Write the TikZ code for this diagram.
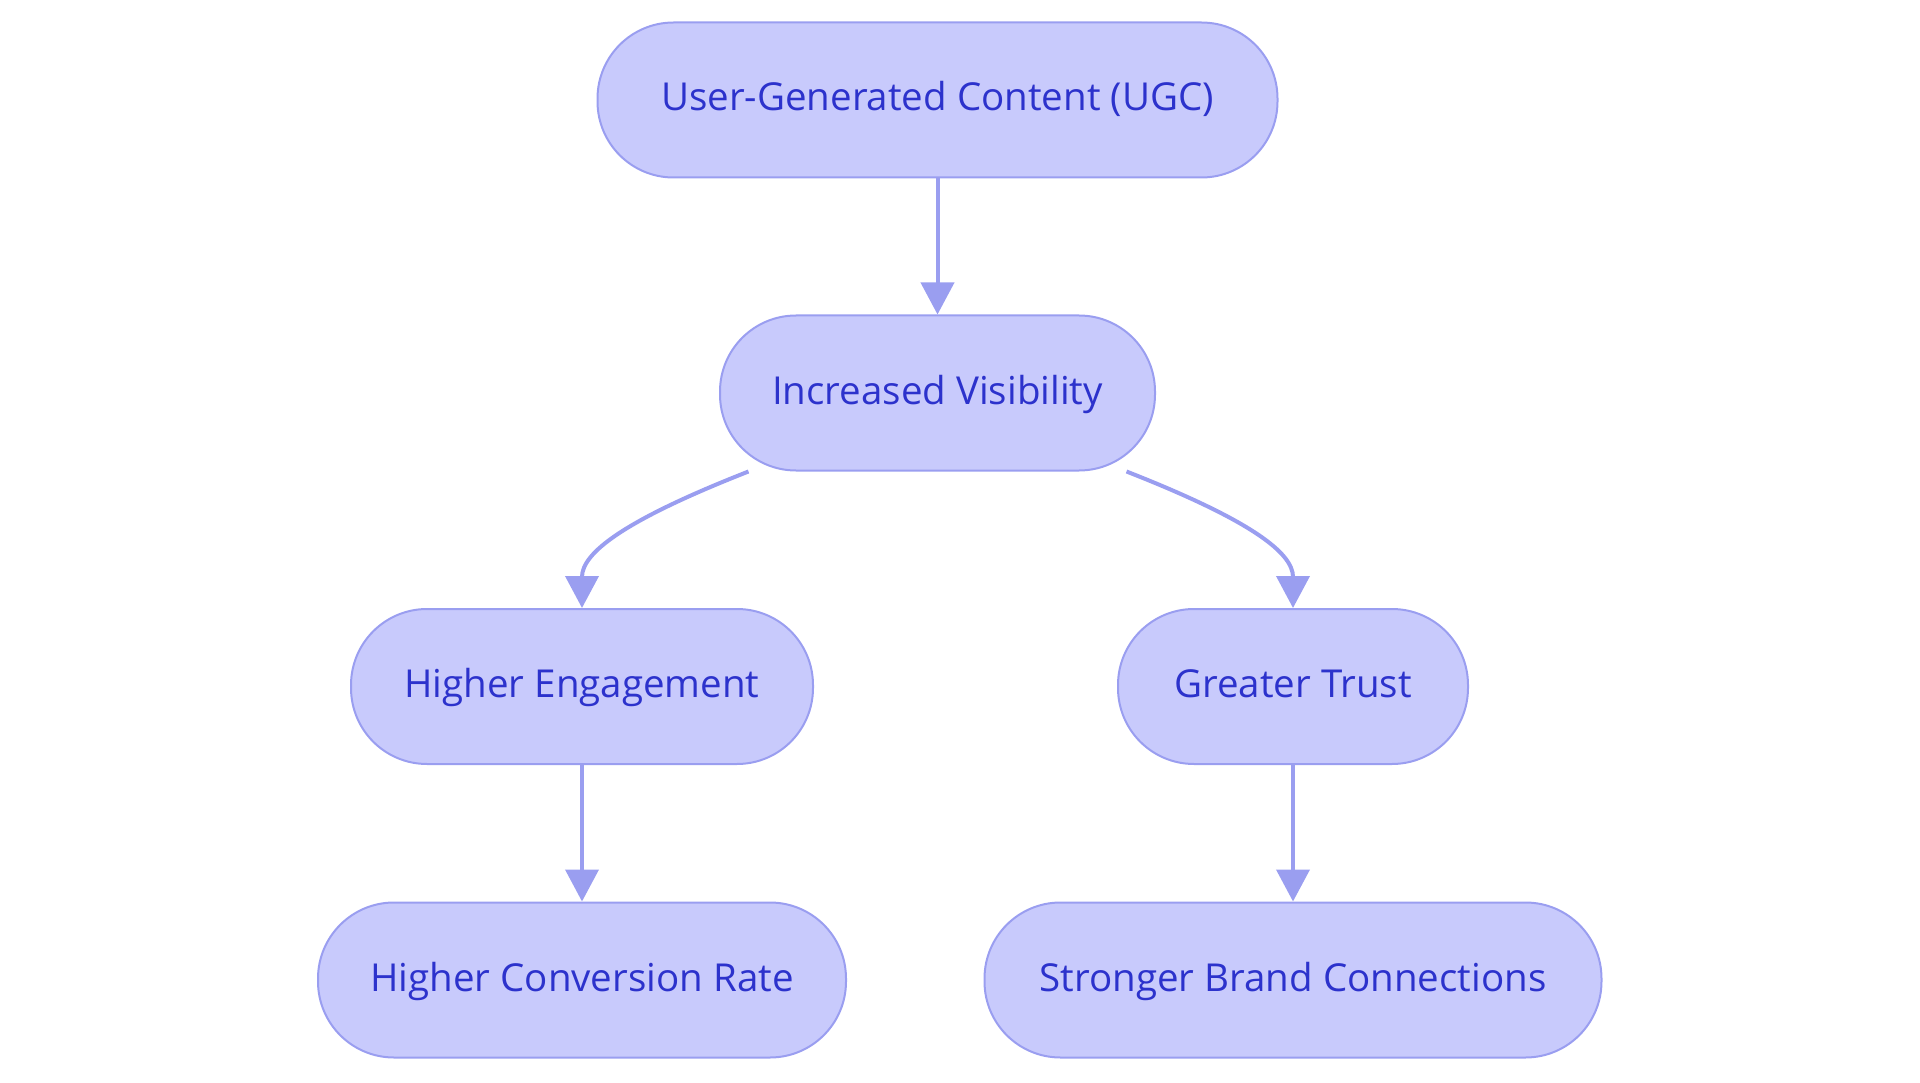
\documentclass[tikz,border=0pt]{standalone}
\usepackage{fontspec}
\setmainfont{Open Sans}
\usepackage{tikz}
\usetikzlibrary{arrows.meta}
\definecolor{boxfill}{HTML}{C8CAFC}
\definecolor{boxline}{HTML}{9A9EF0}
\definecolor{boxtext}{HTML}{2C32CC}
\tikzset{box/.style={draw=boxline,line width=2pt,fill=boxfill,rounded corners=76pt,minimum height=155pt,text=boxtext,text height=30pt,text depth=8pt,font=\fontsize{38.5}{38.5}\selectfont}}
\tikzset{link/.style={draw=boxline,line width=4pt,-{Triangle[length=32pt,width=33pt]}}}

\begin{document}
\begin{tikzpicture}[x=1pt,y=-1pt]
        \useasboundingbox (0,0) rectangle (1920,1083);
        \node[box,minimum width=680pt] (ugc) at (937.5,100) {User-Generated Content (UGC)};
        \node[box,minimum width=435pt] (iv) at (937.5,393) {Increased Visibility};
        \node[box,minimum width=462pt] (he) at (582,686.5) {Higher Engagement};
        \node[box,minimum width=350pt] (gt) at (1293,686.5) {Greater Trust};
        \node[box,minimum width=528pt] (hcr) at (582,980) {Higher Conversion Rate};
        \node[box,minimum width=617pt] (sbc) at (1293,980) {Stronger Brand Connections};
        \draw[link] (ugc) -- (iv);
        \draw[link] ([xshift=29.5pt]iv.south west) .. controls +(-125,49) and +(0,-55) .. (he.north);
        \draw[link] ([xshift=-29.5pt]iv.south east) .. controls +(125,49) and +(0,-55) .. (gt.north);
        \draw[link] (he) -- (hcr);
        \draw[link] (gt) -- (sbc);
      \end{tikzpicture}
\end{document}
